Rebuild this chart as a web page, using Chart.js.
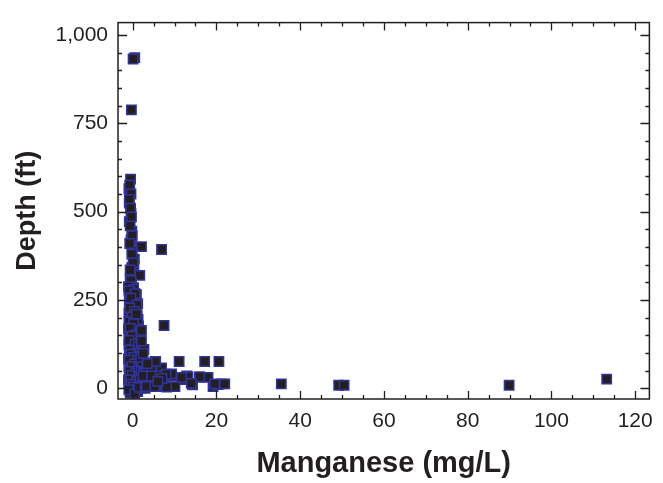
<!DOCTYPE html>
<html>
<head>
<meta charset="utf-8">
<script src="https://cdn.jsdelivr.net/npm/chart.js@4.4.0/dist/chart.umd.min.js"></script>
<style>html,body{margin:0;padding:0;background:#fff;}canvas{display:block;}</style>
</head>
<body>
<canvas id="c" width="663" height="483"></canvas>
<script>
// ---- data ----
const manganese = [
  0.5, 0.1, -0.3, -0.5, -0.9, -0.8, -0.4, -0.8, -0.2, -0.4, 2.1, 6.9, -0.1, 0.4, -0.2, 0.3, 1.7, -0.5, -0.3, -0.6,
  -0.7, -0.4, -0.8, -0.5, -0.3, -0.6, -0.1, -0.7, -0.2, 0.1, -0.6, -0.4, 0.2,
  -1.0, 0.2, -0.6, 0.9, -0.3, 0.5, -0.8, 1.2, 0.0, -0.5, 0.7, -0.9, 0.3, 1.1, -0.2, -0.7, 0.6, -0.4, 1.4, 0.1,
  -1.0, 0.8, -0.3, 0.4, -0.8, 1.5, 0.0, -0.6, 0.9, -0.1, 0.5, -0.9, 1.2, 0.2, -0.5, 0.7, -0.2, 1.6, -0.8, 0.3,
  1.0, -0.4, 0.6, -1.0, 1.8, 0.1, -0.6, 0.9, 1.4, -0.3, 0.4, -0.9, 2.0, 0.7, -0.5, 1.1, 0.0, 1.6, -0.8, 0.5,
  2.2, -0.2, 1.0, -0.7, 1.7, 0.3, -1.0, 0.8, 2.4, -0.4, 1.3, 0.1, -0.9, 1.9, 0.6, -0.6, 1.1, -0.1, 0.4, -0.8,
  0.9, -0.3, -0.6,
  -0.9, 0.6, -0.4, 1.0, -0.7, 0.4, -0.1, 1.3, -0.9, 0.2, -0.6, 1.7, 0.8, -0.2, 1.9, -0.9, 0.6, 1.4, -0.7, 2.1,
  0.9, -0.4, 1.5, 0.2, 2.3, -0.8, 1.2, 2.6, 0.4, -0.2, 1.8, 2.9, -0.7, 0.8, 2.5, -0.1, 1.4, 3.1, -0.5, 0.9,
  2.7, -0.3, 1.6, 0.2, 2.0, -0.9, 1.2, 0.5,
  1.5, 2.0, 3.0, 2.6, 3.5, 4.0, 1.8, 2.8, 3.2, 4.5, 2.2, 1.5, 3.0, 3.6, 2.9, 2.3, 4.2, 1.9, 2.7, 3.4, 5.0, 4.8,
  2.5, 2.1, 2.1, 5.3, 11.1, 17.2, 20.6, 4.5, 6.9, 2.5, 4.5, 6.5, 9.3, 12.9, 15.9, 18.0, 11.9, 3.3, 5.3, 7.7,
  10.1, 14.3, 19.2, 20.4, 21.2, 22.0, 19.6, 16.0, 13.2, 8.1, 7.5, 0.9, 35.5, 49.2, 50.5, 89.9, 113.2, 9.3,
  11.7, 14.0, 5.5, 8.0, 7.0, 6.0, 3.5
];
const depth = [
  936, 932, 788, 592, 565, 524, 495, 472, 445, 420, 401, 393, 390, 366, 342, 350, 320, 330, 298, 310,
  575, 550, 535, 510, 485, 460, 432, 410, 380, 355, 335, 305, 285,
  288, 280, 272, 265, 259, 252, 246, 240, 232, 226, 220, 214, 210, 205, 198, 192, 186, 180, 177, 172,
  168, 164, 160, 155, 150, 146, 142, 138, 134, 131, 127, 123, 120, 116, 113, 109, 105, 102, 99, 96,
  93, 90, 87, 84, 82, 79, 76, 73, 70, 67, 64, 61, 58, 55, 52, 50, 47, 45, 42, 40,
  38, 35, 33, 31, 29, 27, 25, 23, 21, 19, 17, 15, 13, 11, 9, 7, 5, 3, 1, -2,
  -5, -8, -13,
  276, 268, 255, 236, 228, 218, 202, 195, 188, 183, 170, 158, 152, 148, 140, 136, 125, 118, 108, 104,
  100, 97, 92, 88, 85, 80, 78, 72, 69, 62, 56, 51, 48, 44, 41, 37, 32, 28, 24, 20,
  16, 12, 8, 4, 1, -4, -9, -15,
  60, 55, 50, 45, 40, 30, 25, 20, 15, 10, 8, 3, 0, 62, 68, 75, 48, 88, 110, 55, 45, 22,
  99, 164, 134, 76, 76, 76, 76, 58, 58, 35, 35, 35, 35, 35, 31, 31, 25, 5, 5, 5,
  5, 10, 5, 11, 13, 13, 13, 33, 33, 4, 178, 210, 13, 9, 9, 9, 26, 41,
  31, 14, 76, 40, 28, 20, 70
];
const xTickValues = [0, 20, 40, 60, 80, 100, 120];
const xTickLabels = ['0', '20', '40', '60', '80', '100', '120'];
const yTickValues = [0, 250, 500, 750, 1000];
const yTickLabels = ['0', '250', '500', '750', '1,000'];
const xTitle = 'Manganese (mg/L)';
const yTitle = 'Depth (ft)';

const points = manganese.map((m, i) => ({ x: m, y: depth[i] }));

const INK = '#231f20';

const frameTicks = {
  id: 'frameTicks',
  afterDraw(chart) {
    const { ctx, chartArea: { left, right, top, bottom }, scales: { x, y } } = chart;
    ctx.save();
    ctx.strokeStyle = INK;
    ctx.lineWidth = 1.5;
    ctx.strokeRect(left, top, right - left, bottom - top);
    ctx.lineWidth = 1.3;
    ctx.beginPath();
    for (let v = 0; v <= x.max; v += 5) {
      const px = Math.round(x.getPixelForValue(v)) + 0.5;
      const len = (v % 20 === 0) ? 8 : 4;
      ctx.moveTo(px, bottom); ctx.lineTo(px, bottom - len);
      ctx.moveTo(px, top); ctx.lineTo(px, top + len);
    }
    for (let v = 0; v <= y.max; v += 50) {
      const py = Math.round(y.getPixelForValue(v)) + 0.5;
      const len = (v % 250 === 0) ? 9 : 4;
      ctx.moveTo(left, py); ctx.lineTo(left + len, py);
      ctx.moveTo(right, py); ctx.lineTo(right - len, py);
    }
    ctx.stroke();
    ctx.restore();
  }
};

new Chart(document.getElementById('c'), {
  type: 'scatter',
  data: {
    datasets: [{
      data: points,
      pointStyle: 'rect',
      pointRadius: 6.6,
      pointHoverRadius: 6.6,
      backgroundColor: INK,
      borderColor: '#30349a',
      borderWidth: 1.5
    }]
  },
  options: {
    responsive: false,
    animation: false,
    devicePixelRatio: 1,
    layout: { padding: { top: 9, right: 12, left: 0, bottom: 0 } },
    plugins: { legend: { display: false }, tooltip: { enabled: false } },
    scales: {
      x: {
        type: 'linear',
        min: -3.5,
        max: 123.4,
        grid: { display: false, drawTicks: false },
        border: { display: false },
        afterBuildTicks: s => { s.ticks = xTickValues.map(v => ({ value: v })); },
        afterFit: s => { s.height = 84; },
        ticks: {
          padding: 10,
          color: INK,
          font: { family: 'Liberation Sans', size: 21 },
          callback: v => xTickLabels[xTickValues.indexOf(v)]
        },
        title: {
          display: true,
          text: xTitle,
          color: INK,
          font: { family: 'Liberation Sans', size: 29, weight: 'bold' },
          padding: { top: 0, bottom: 2 }
        }
      },
      y: {
        type: 'linear',
        min: -30,
        max: 1035,
        grid: { display: false, drawTicks: false },
        border: { display: false },
        afterBuildTicks: s => { s.ticks = yTickValues.map(v => ({ value: v })); },
        afterFit: s => { s.width = 118; },
        ticks: {
          padding: 10,
          color: INK,
          font: { family: 'Liberation Sans', size: 21 },
          callback: v => yTickLabels[yTickValues.indexOf(v)]
        },
        title: {
          display: true,
          text: yTitle,
          color: INK,
          font: { family: 'Liberation Sans', size: 27, weight: 'bold' },
          padding: { top: 11, bottom: 0 }
        }
      }
    }
  },
  plugins: [frameTicks]
});
</script>
</body>
</html>
